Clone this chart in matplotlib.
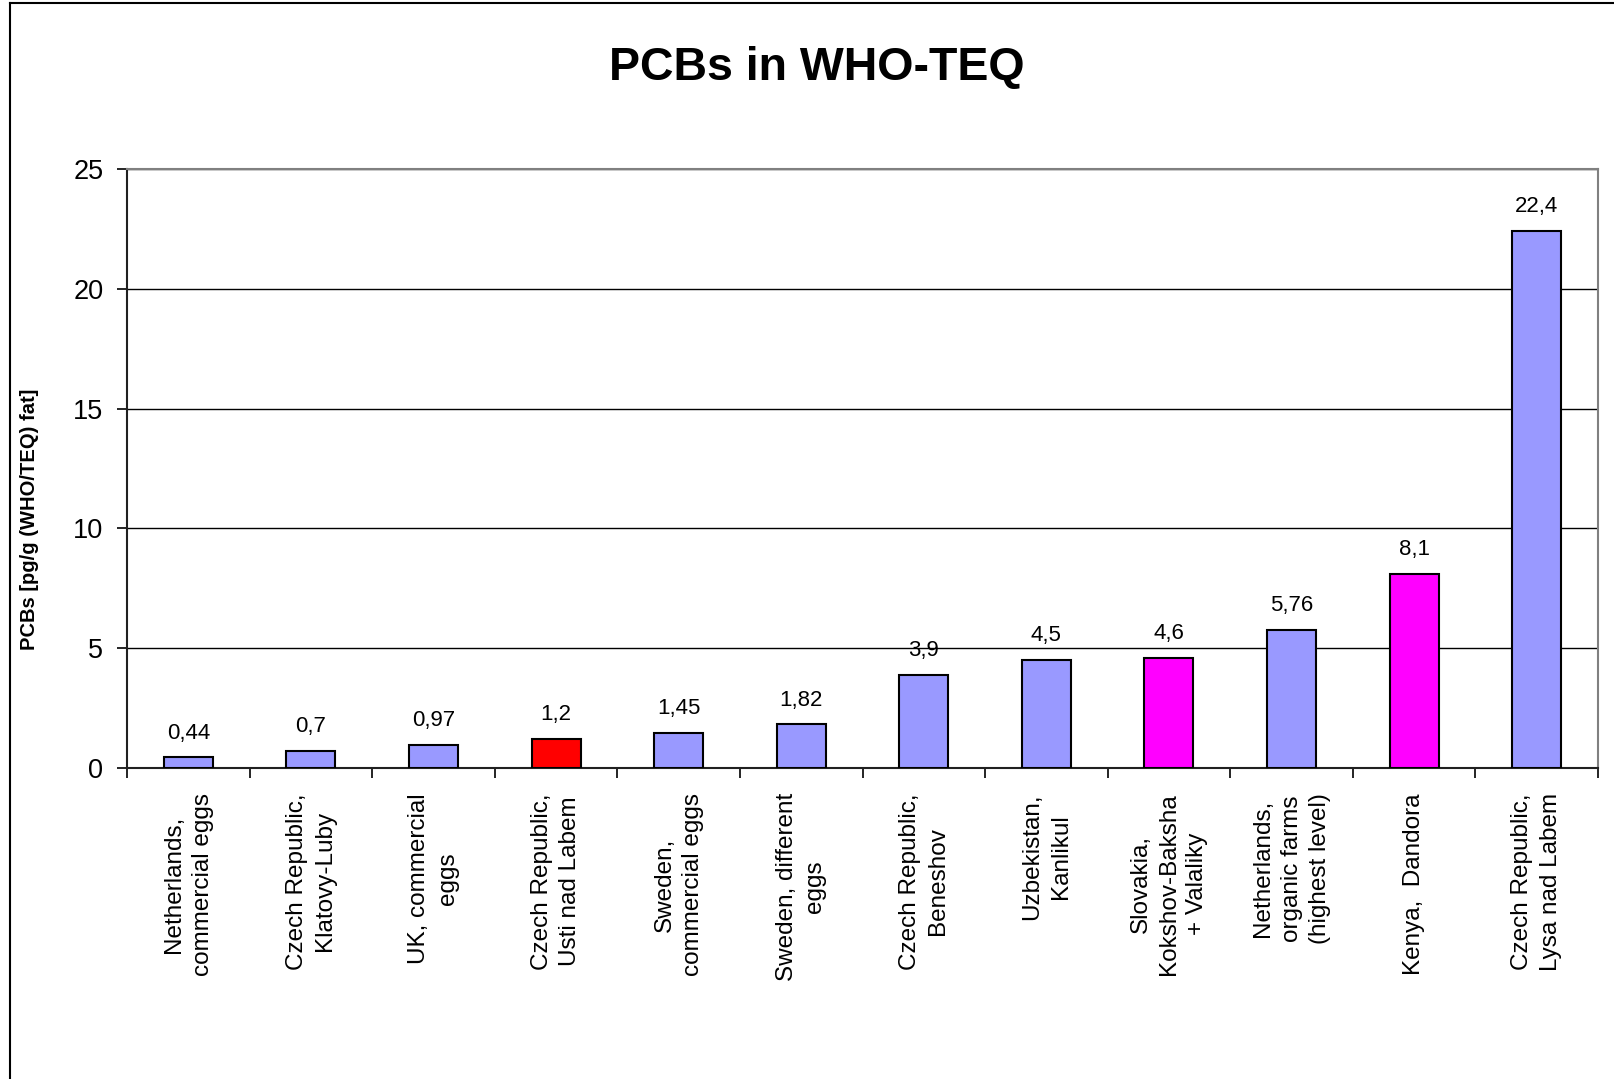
import matplotlib
matplotlib.use("Agg")
import matplotlib.pyplot as plt
from matplotlib.lines import Line2D
import numpy as np

plt.rcParams['font.family'] = ['Liberation Sans', 'DejaVu Sans']

# data
categories = [
    "Netherlands,\ncommercial eggs",
    "Czech Republic,\nKlatovy-Luby",
    "UK, commercial\neggs",
    "Czech Republic,\nUsti nad Labem",
    "Sweden,\ncommercial eggs",
    "Sweden, different\neggs",
    "Czech Republic,\nBeneshov",
    "Uzbekistan,\nKanlikul",
    "Slovakia,\nKokshov-Baksha\n+ Valaliky",
    "Netherlands,\norganic farms\n(highest level)",
    "Kenya,  Dandora",
    "Czech Republic,\nLysa nad Labem",
]
values = [0.44, 0.7, 0.97, 1.2, 1.45, 1.82, 3.9, 4.5, 4.6, 5.76, 8.1, 22.4]
value_labels = ["0,44", "0,7", "0,97", "1,2", "1,45", "1,82", "3,9", "4,5", "4,6", "5,76", "8,1", "22,4"]
bar_colors = ["#9999FF", "#9999FF", "#9999FF", "#FF0000", "#9999FF", "#9999FF",
              "#9999FF", "#9999FF", "#FF00FF", "#9999FF", "#FF00FF", "#9999FF"]
yticks = [0, 5, 10, 15, 20, 25]

fig = plt.figure(figsize=(16.14, 10.79), dpi=100)
ax = fig.add_axes([0.0787, 0.2882, 0.9114, 0.5552])

x = np.arange(len(values))
bars = ax.bar(x, values, width=0.4, color=bar_colors, edgecolor="black", linewidth=1.5, zorder=3)

for b, lab in zip(bars, value_labels):
    ax.annotate(lab, (b.get_x() + b.get_width() / 2, b.get_height()),
                xytext=(0, 10), textcoords="offset points",
                ha="center", va="bottom", fontsize=16)

ax.set_xlim(-0.5, len(values) - 0.5)
ax.set_ylim(0, 25)
ax.set_yticks(yticks)
ax.set_yticklabels([str(t) for t in yticks], fontsize=19.5)
ax.yaxis.grid(True, color="black", linewidth=1.0, zorder=0)

# category boundaries get the tick marks, labels sit at centers
ax.set_xticks(np.arange(-0.5, len(values), 1.0))
ax.set_xticklabels([])
ax.set_xticks(x, minor=True)
ax.set_xticklabels(categories, minor=True, rotation=90, ha="center", va="top",
                   multialignment="center", fontsize=17.5, linespacing=1.38)
ax.tick_params(axis="x", which="minor", length=0, pad=18)
ax.tick_params(axis="x", which="major", length=7, width=1.2, direction="out")
ax.tick_params(axis="y", length=7, width=1.2, direction="out", pad=10)

for s in ["top", "right"]:
    ax.spines[s].set_color("#808080")
    ax.spines[s].set_linewidth(1.5)
for s in ["left", "bottom"]:
    ax.spines[s].set_color("#202020")
    ax.spines[s].set_linewidth(1.5)

fig.text(0.506, 0.937, "PCBs in WHO-TEQ", ha="center", va="center", fontsize=33.5, fontweight="bold")
ax.set_ylabel("PCBs [pg/g (WHO/TEQ) fat]", fontsize=14.5, fontweight="bold", labelpad=0)
ax.yaxis.set_label_coords(-0.0595, 0.416)

# outer chart frame (only left and top edges are visible)
fig.add_artist(Line2D([10 / 1614, 10 / 1614], [0, 1 - 3 / 1079], color="black", linewidth=1.5))
fig.add_artist(Line2D([10 / 1614, 1], [1 - 3 / 1079, 1 - 3 / 1079], color="black", linewidth=1.5))

fig.savefig("out.png", dpi=100)
